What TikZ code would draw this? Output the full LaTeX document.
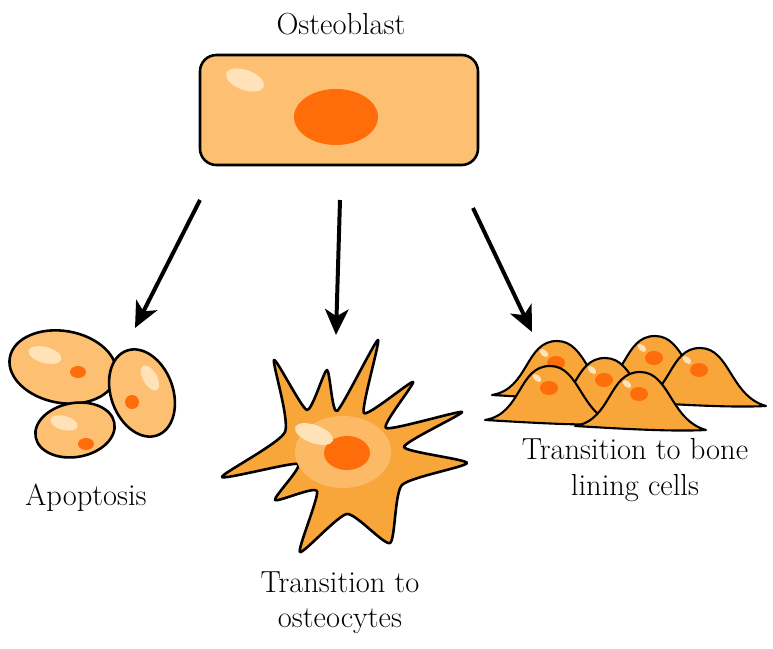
\documentclass[tikz,border=0pt]{standalone}
\usepackage{amsmath, amssymb}
\usepackage{tikz}
\usetikzlibrary{arrows.meta}
\definecolor{cellfill}{HTML}{FDBF72}
\definecolor{celldark}{HTML}{F8A53A}
\definecolor{nucl}{HTML}{FF6C0A}
\definecolor{shine}{HTML}{FFE2B8}
\tikzset{
  cell/.style={draw=black, line width=2.2pt, fill=cellfill, line join=round},
  lining/.style={draw=black, line width=1.8pt, fill=celldark, line join=round},
  nucleus/.style={fill=nucl},
  spot/.style={fill=shine},
  label/.style={font=\fontsize{26}{30}\selectfont, align=center},
  fate/.style={line width=3.4pt, -{Stealth[length=22pt,width=20pt,inset=6pt]}}
}
\newcommand{\liningcell}[2]{%
  \begin{scope}[shift={(#1,#2)}]
    \draw [lining] (-65,50) .. controls (-28,44) and (-32,-4) .. (0,-4)
                   .. controls (30,-4) and (30,44) .. (66,54)
                   .. controls (30,56) and (-30,52) .. cycle;
    \fill [spot, rotate around={-40:(-13,8)}] (-13,8) ellipse (5 and 3);
    \fill [nucleus] (-1,18) ellipse (9 and 7);
  \end{scope}}
\begin{document}
\begin{tikzpicture}[x=0.03cm, y=-0.03cm]
\useasboundingbox (0,0) rectangle (773,649);
% osteoblast
\node [label] (ob) at (341,24) {Osteoblast};
\draw [cell, rounded corners=14pt] (200,55) rectangle (478,165);
\fill [nucleus] (336,117) ellipse (42 and 28);
\fill [spot, rotate around={-20:(245,80)}] (245,80) ellipse (20 and 10);
% arrows
\coordinate (a1) at (200,200);
\coordinate (a2) at (135,328);
\coordinate (b1) at (340,200);
\coordinate (b2) at (336,335);
\coordinate (c1) at (473,208);
\coordinate (c2) at (532,332);
\draw [fate] (a1) -- (a2);
\draw [fate] (b1) -- (b2);
\draw [fate] (c1) -- (c2);
% apoptosis
\draw [cell, rotate around={-10:(63,367)}] (63,367) ellipse (54 and 36);
\fill [spot, rotate around={-15:(45,355)}] (45,355) ellipse (17 and 8);
\fill [nucleus] (78,372) ellipse (8 and 6);
\draw [cell, rotate around={20:(142,393)}] (142,393) ellipse (31 and 45);
\fill [spot, rotate around={-60:(150,378)}] (150,378) ellipse (14 and 7);
\fill [nucleus] (132,402) ellipse (7 and 7);
\draw [cell, rotate around={10:(75,430)}] (75,430) ellipse (40 and 27);
\fill [spot, rotate around={-15:(64,423)}] (64,423) ellipse (14 and 7);
\fill [nucleus] (86,444) ellipse (8 and 6);
\node [label] (apo) at (86,498) {Apoptosis};
% osteocyte
\draw [cell, fill=celldark] plot [smooth cycle, tension=0.35] coordinates {
  (274,360) (307,410) (327,370) (337,411) (378,340) (364,413) (413,382)
  (386,428) (462,412) (404,447) (467,463) (402,485) (390,543) (347,514)
  (300,552) (317,491) (275,500) (298,464) (222,477) (285,432)};
\fill [cellfill!80!celldark] (343,452) ellipse (48 and 36);
\fill [nucleus] (347,453) ellipse (23 and 17);
\fill [spot, rotate around={-20:(314,434)}] (314,434) ellipse (20 and 9);
\node [label] (ocy) at (340,603) {Transition to\\osteocytes};
% bone lining cells
\liningcell{557}{345}
\liningcell{655}{340}
\liningcell{700}{352}
\liningcell{605}{362}
\liningcell{550}{370}
\liningcell{640}{376}
\node [label] (blc) at (635,470) {Transition to bone\\lining cells};
\end{tikzpicture}
\end{document}
